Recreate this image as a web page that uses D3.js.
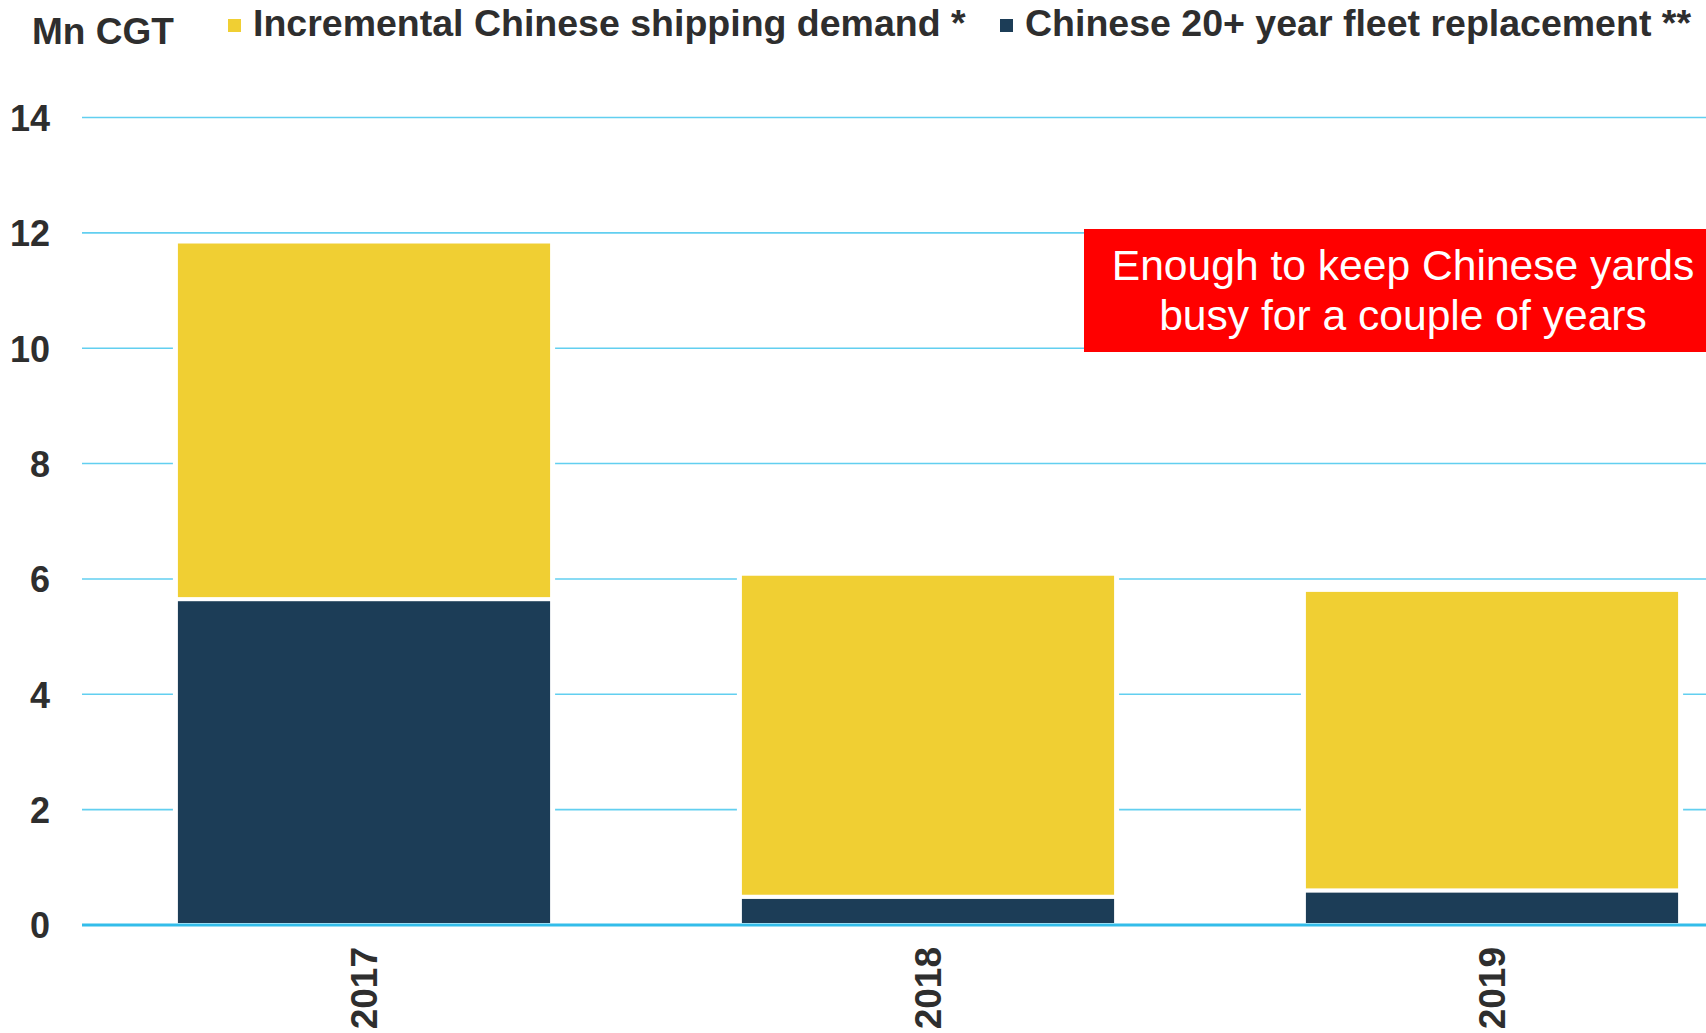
<!DOCTYPE html>
<html>
<head>
<meta charset="utf-8">
<script src="https://cdn.jsdelivr.net/npm/d3@7"></script>
<style>
  html, body { margin: 0; padding: 0; background: #fff; }
  svg { display: block; font-family: "Liberation Sans", Arial, sans-serif; }
</style>
</head>
<body>
<svg id="chart" width="1706" height="1033"></svg>
<script>
// Chinese newbuilding demand, Mn CGT
const years = ["2017", "2018", "2019"];
const fleetReplacement = [5.65, 0.49, 0.6];     // Chinese 20+ year fleet replacement **
const incrementalDemand = [6.2, 5.6, 5.21];     // Incremental Chinese shipping demand *
const yTicks = [0, 2, 4, 6, 8, 10, 12, 14];
const seriesNames = ["Chinese 20+ year fleet replacement **", "Incremental Chinese shipping demand *"];
const seriesKeys = ["fleet", "incremental"];
const unitLabel = "Mn CGT";
const calloutLines = ["Enough to keep Chinese yards", "busy for a couple of years"];

const colors = { fleet: "#1c3d57", incremental: "#f0cf33" };
const textColor = "#2e2e2e";
const gridColor = "#62cff0";
const axisColor = "#33bdea";

const svg = d3.select("#chart");
const W = 1706, H = 1033;

const rows = years.map((y, i) => ({ year: y, fleet: fleetReplacement[i], incremental: incrementalDemand[i] }));
const stacked = d3.stack().keys(seriesKeys)(rows);

const x = d3.scaleBand().domain(years).range([82, 1774]).paddingInner(0.333).paddingOuter(0.1665);
const y = d3.scaleLinear().domain([0, 14]).range([925, 117.5]);

// gridlines
svg.append("g")
  .selectAll("line")
  .data(yTicks.filter(t => t > 0))
  .join("line")
  .attr("x1", 82).attr("x2", W)
  .attr("y1", d => y(d)).attr("y2", d => y(d))
  .attr("stroke", gridColor).attr("stroke-width", 1.6);

// y tick labels
const yAxis = d3.axisLeft(y).tickValues(yTicks).tickSize(0).tickPadding(0);
const yg = svg.append("g").attr("transform", "translate(50,0)").call(yAxis);
yg.select(".domain").remove();
yg.selectAll("text")
  .attr("fill", textColor)
  .style("font-size", "36px")
  .style("font-weight", "bold")
  .attr("dy", "0.36em");

// white halo behind each stacked bar so gridlines stop short of it
svg.append("g")
  .selectAll("rect")
  .data(rows)
  .join("rect")
  .attr("x", d => x(d.year) - 3)
  .attr("width", x.bandwidth() + 6)
  .attr("y", d => y(d.fleet + d.incremental) - 3)
  .attr("height", d => y(0) - y(d.fleet + d.incremental) + 3)
  .attr("fill", "#fff");

// stacked bars
svg.append("g")
  .selectAll("g")
  .data(stacked)
  .join("g")
  .attr("fill", d => colors[d.key])
  .selectAll("rect")
  .data(d => d)
  .join("rect")
  .attr("x", d => x(d.data.year))
  .attr("width", x.bandwidth())
  .attr("y", d => y(d[1]))
  .attr("height", d => y(d[0]) - y(d[1]))
  .attr("stroke", "#fff")
  .attr("stroke-width", 4);

// baseline
svg.append("line")
  .attr("x1", 82).attr("x2", W)
  .attr("y1", y(0)).attr("y2", y(0))
  .attr("stroke", axisColor).attr("stroke-width", 3);

// x axis labels, rotated
const xAxis = d3.axisBottom(x).tickSize(0).tickPadding(0);
const xg = svg.append("g").attr("transform", `translate(0,${y(0)})`).call(xAxis);
xg.select(".domain").remove();
xg.selectAll("text")
  .attr("fill", textColor)
  .style("font-size", "37px")
  .style("font-weight", "bold")
  .attr("text-anchor", "end")
  .attr("transform", "rotate(-90)")
  .attr("x", -22)
  .attr("y", 0)
  .attr("dy", "0.36em");

// unit label
svg.append("text")
  .attr("x", 32).attr("y", 44)
  .attr("fill", textColor)
  .style("font-size", "37px").style("font-weight", "bold")
  .text(unitLabel);

// legend
const legendItems = [
  { key: "incremental", name: seriesNames[1], sx: 228, tx: 253 },
  { key: "fleet", name: seriesNames[0], sx: 1000, tx: 1025 }
];
const lg = svg.append("g");
lg.selectAll("rect")
  .data(legendItems)
  .join("rect")
  .attr("x", d => d.sx).attr("y", 19)
  .attr("width", 13).attr("height", 13)
  .attr("fill", d => colors[d.key]);
lg.selectAll("text")
  .data(legendItems)
  .join("text")
  .attr("x", d => d.tx).attr("y", 36)
  .attr("fill", textColor)
  .style("font-size", "37.5px").style("font-weight", "bold")
  .text(d => d.name);

// callout
const callout = svg.append("g");
callout.append("rect")
  .attr("x", 1084).attr("y", 229)
  .attr("width", W - 1084).attr("height", 123)
  .attr("fill", "#ff0000");
callout.selectAll("text")
  .data(calloutLines)
  .join("text")
  .attr("x", 1403)
  .attr("y", (d, i) => 280 + i * 50)
  .attr("text-anchor", "middle")
  .attr("fill", "#fff")
  .style("font-size", "42.6px")
  .text(d => d);
</script>
</body>
</html>
